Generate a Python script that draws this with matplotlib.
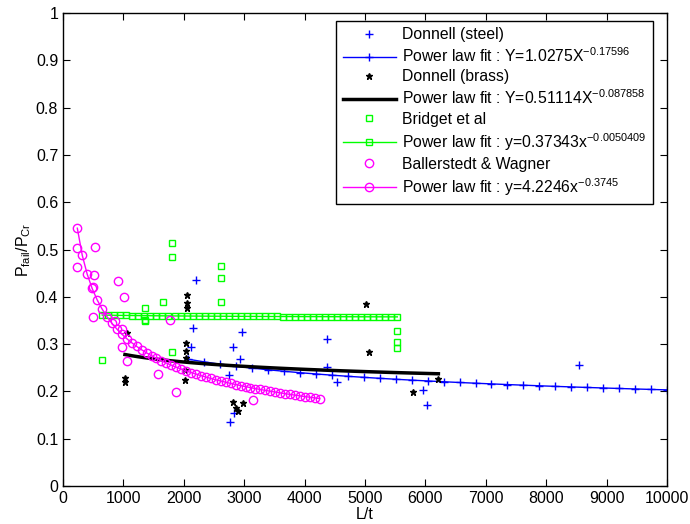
import numpy as np
import matplotlib
matplotlib.use('Agg')
import matplotlib.pyplot as plt

plt.rcParams['font.family'] = ['Liberation Sans', 'DejaVu Sans']
plt.rcParams['mathtext.default'] = 'regular'

# Donnell (steel)
steel_x = [2200, 2160, 2960, 2820, 2930, 2120, 2750, 2830, 2765, 4375, 4375, 4540, 5955, 6020, 8550]
steel_y = [0.435, 0.333, 0.325, 0.294, 0.269, 0.294, 0.235, 0.155, 0.135, 0.310, 0.251, 0.219, 0.204, 0.172, 0.256]

# Donnell (brass)
brass_x = [1055, 1026, 1026, 2048, 2048, 2048, 2030, 2030, 2040, 2020, 2020, 2820, 2870, 2900, 2985, 5015, 5060, 5790, 6215]
brass_y = [0.323, 0.228, 0.220, 0.404, 0.386, 0.377, 0.303, 0.285, 0.271, 0.245, 0.224, 0.177, 0.164, 0.159, 0.175, 0.385, 0.283, 0.199, 0.226]

# Bridget et al
bridget_x = [650, 1358, 1358, 1358, 1660, 1810, 1810, 1810, 2610, 2610, 2610, 5535, 5535, 5535]
bridget_y = [0.266, 0.377, 0.351, 0.348, 0.390, 0.514, 0.485, 0.284, 0.466, 0.439, 0.388, 0.328, 0.305, 0.292]

# Ballerstedt & Wagner
bw_x = [240, 240, 530, 518, 490, 497, 916, 1010, 860, 982, 982, 1055, 1772, 1578, 1866, 3140]
bw_y = [0.503, 0.462, 0.505, 0.446, 0.420, 0.357, 0.433, 0.400, 0.349, 0.332, 0.293, 0.265, 0.350, 0.236, 0.199, 0.182]

# power law fits y = a * x^b, with the x range each fit covers
fit_steel = (1.0275, -0.17596, 2075, 10000, 31)
fit_brass = (0.51114, -0.087858, 1026, 6215, 50)
fit_bridget = (0.37343, -0.0050409, 650, 5535, 50)
fit_bw = (4.2246, -0.3745, 237, 4250, 50)


def power_fit(fit):
    a, b, x0, x1, n = fit
    x = np.linspace(x0, x1, n)
    return x, a * x ** b


fig = plt.figure(figsize=(6.9, 5.24), dpi=100)
ax = fig.add_axes([63 / 690, 38 / 524, 604 / 690, 473 / 524])

ax.plot(steel_x, steel_y, '+', color='b', ms=6, mew=1, label='Donnell (steel)')
x, y = power_fit(fit_steel)
ax.plot(x, y, '-+', color='b', lw=1, ms=6, mew=1, label='Power law fit : Y=1.0275X$^{-0.17596}$')

ax.plot(brass_x, brass_y, '*', color='k', ms=5, label='Donnell (brass)')
x, y = power_fit(fit_brass)
ax.plot(x, y, '-', color='k', lw=2.5, label='Power law fit : Y=0.51114X$^{-0.087858}$')

ax.plot(bridget_x, bridget_y, 's', color='#00ff00', mfc='none', ms=5, label='Bridget et al')
x, y = power_fit(fit_bridget)
ax.plot(x, y, '-s', color='#00ff00', lw=1, mfc='none', ms=5, label='Power law fit : y=0.37343x$^{-0.0050409}$')

ax.plot(bw_x, bw_y, 'o', color='#ff00ff', mfc='none', ms=6, label='Ballerstedt & Wagner')
x, y = power_fit(fit_bw)
ax.plot(x, y, '-o', color='#ff00ff', lw=1, mfc='none', ms=6, label='Power law fit : y=4.2246x$^{-0.3745}$')

ax.set_xlim(0, 10000)
ax.set_ylim(0, 1)
ax.set_xticks(np.arange(0, 10001, 1000))
ax.set_yticks(np.arange(0, 1.01, 0.1))
ax.set_yticklabels(['0', '0.1', '0.2', '0.3', '0.4', '0.5', '0.6', '0.7', '0.8', '0.9', '1'])
ax.tick_params(direction='in', top=True, right=True, labelsize=11.5, length=5)
for s in ax.spines.values():
    s.set_linewidth(1)

ax.set_xlabel('L/t', fontsize=11.5, labelpad=1)
ax.set_ylabel('P$_{fail}$/P$_{Cr}$', fontsize=11.5)
ax.yaxis.set_label_coords(-0.05, 0.5)

leg = ax.legend(loc='upper right', bbox_to_anchor=(0.977, 0.983), fontsize=11.3, numpoints=1,
                fancybox=False, edgecolor='k', framealpha=1, handlelength=3.4,
                labelspacing=0.27, borderpad=0.4, handletextpad=0.4, borderaxespad=0)
leg.get_frame().set_linewidth(1)

fig.savefig('out.png', dpi=100)
